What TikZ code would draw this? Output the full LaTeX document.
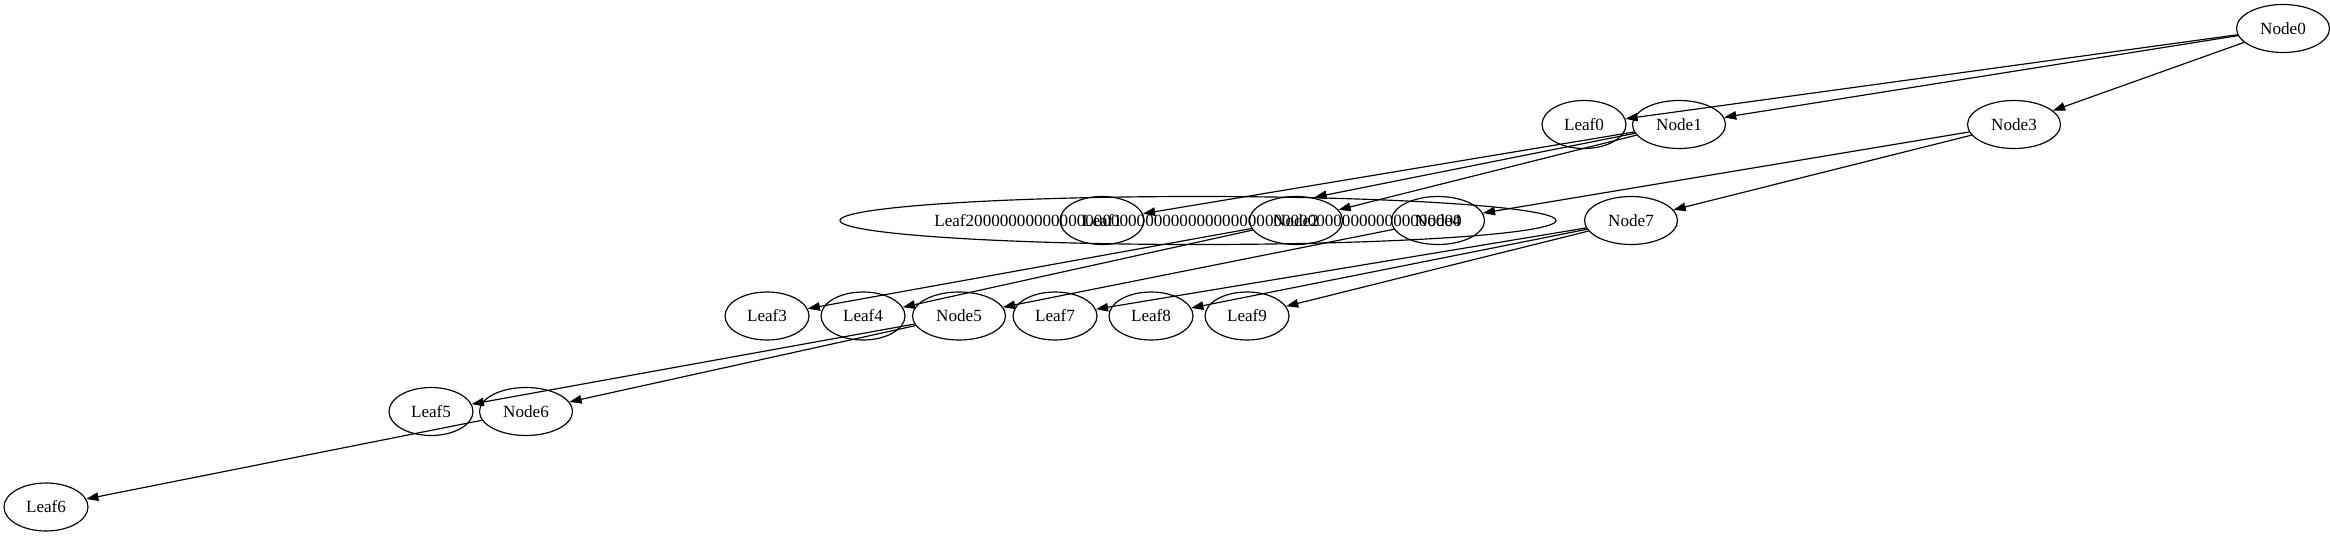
\documentclass[tikz,border=0pt]{standalone}
\usepackage{fontspec}
\setmainfont{Liberation Serif}
\usetikzlibrary{arrows.meta, shapes}

\begin{document}
\begin{tikzpicture}[
    x=0.03cm, y=-0.03cm,
    every node/.style={font=\fontsize{14.6}{17}\selectfont, align=center},
    leafnode/.style={draw, ellipse, line width=1pt, inner sep=0pt, minimum width=2.52cm, minimum height=1.44cm},
    innernode/.style={draw, ellipse, line width=1pt, inner sep=0pt, minimum width=2.79cm, minimum height=1.44cm},
    arrow/.style={-{Triangle[length=10.4pt, width=7.3pt]}, line width=1pt}
]
    \useasboundingbox (0,0) rectangle (2330,539);

    \node (node0) [innernode] at (2283,28.5) {Node0};

    \node (leaf0) [leafnode] at (1584,124.5) {Leaf0};
    \node (node1) [innernode] at (1679,124.5) {Node1};
    \node (node3) [innernode] at (2014,124.5) {Node3};

    \node (leaf2) [leafnode, minimum width=21.48cm] at (1198,220.5) {\makebox[0pt]{Leaf2000000000000000000000000000000000000000000000000000000000}};
    \node (leaf1) [leafnode] at (1102,220.5) {Leaf1};
    \node (node2) [innernode] at (1296,220.5) {Node2};
    \node (node4) [innernode] at (1438,220.5) {Node4};
    \node (node7) [innernode] at (1631,220.5) {Node7};

    \node (leaf3) [leafnode] at (767,316) {Leaf3};
    \node (leaf4) [leafnode] at (863,316) {Leaf4};
    \node (node5) [innernode] at (959,316) {Node5};
    \node (leaf7) [leafnode] at (1055,316) {Leaf7};
    \node (leaf8) [leafnode] at (1151,316) {Leaf8};
    \node (leaf9) [leafnode] at (1247,316) {Leaf9};

    \node (leaf5) [leafnode] at (431,411.5) {Leaf5};
    \node (node6) [innernode] at (526,411.5) {Node6};

    \node (leaf6) [leafnode] at (46,507) {Leaf6};

    \draw [arrow] (node0) -- (leaf0);
    \draw [arrow] (node0) -- (node1);
    \draw [arrow] (node0) -- (node3);
    \draw [arrow] (node1) -- (leaf1);
    \draw [arrow] (node1) -- (leaf2);
    \draw [arrow] (node1) -- (node2);
    \draw [arrow] (node3) -- (node4);
    \draw [arrow] (node3) -- (node7);
    \draw [arrow] (node2) -- (leaf3);
    \draw [arrow] (node2) -- (leaf4);
    \draw [arrow] (node4) -- (node5);
    \draw [arrow] (node7) -- (leaf7);
    \draw [arrow] (node7) -- (leaf8);
    \draw [arrow] (node7) -- (leaf9);
    \draw [arrow] (node5) -- (leaf5);
    \draw [arrow] (node5) -- (node6);
    \draw [arrow] (node6) -- (leaf6);
\end{tikzpicture}
\end{document}
